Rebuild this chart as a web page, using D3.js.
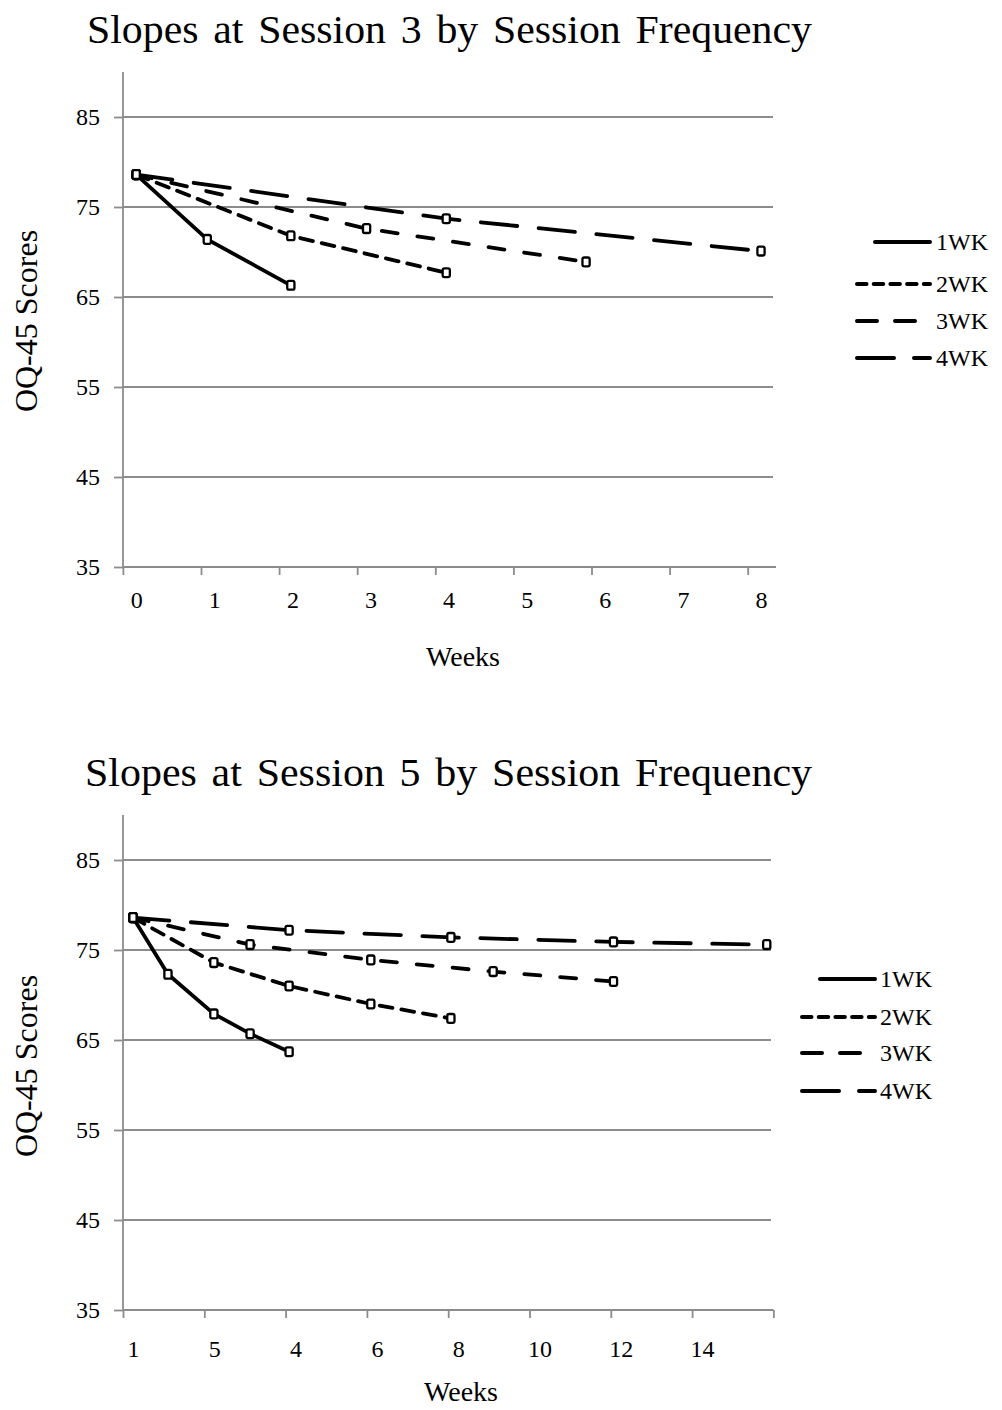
<!DOCTYPE html>
<html>
<head>
<meta charset="utf-8">
<script src="https://cdn.jsdelivr.net/npm/d3@7"></script>
<style>
  html, body { margin: 0; padding: 0; background: #fff; }
  svg { display: block; }
  text { font-family: "Times New Roman", "Liberation Serif", serif; fill: #000; }
</style>
</head>
<body>
<svg id="chart" width="1002" height="1410"></svg>
<script>
// ---- data ----
const seriesNames = ["1WK", "2WK", "3WK", "4WK"];
const yTicks = [35, 45, 55, 65, 75, 85];

// Session 3 panel: weeks since intake and mean OQ-45 score per series
const s3Weeks = [
  [0, 0.91, 1.98],
  [0, 1.98, 3.97],
  [0, 2.95, 5.76],
  [0, 3.97, 8.0]
];
const s3Scores = [
  [78.6, 71.4, 66.3],
  [78.6, 71.8, 67.7],
  [78.6, 72.6, 68.9],
  [78.6, 73.7, 70.1]
];
const s3XTicks = [0, 1, 2, 3, 4, 5, 6, 7, 8];
const s3XTickLabels = ["0", "1", "2", "3", "4", "5", "6", "7", "8"];

// Session 5 panel
const s5Weeks = [
  [0, 0.86, 1.99, 2.88, 3.84],
  [0, 1.99, 3.84, 5.85, 7.82],
  [0, 2.88, 5.85, 8.86, 11.82],
  [0, 3.84, 7.82, 11.82, 15.59]
];
const s5Scores = [
  [78.6, 72.3, 67.9, 65.7, 63.7],
  [78.6, 73.6, 71.0, 69.0, 67.4],
  [78.6, 75.6, 73.9, 72.6, 71.5],
  [78.6, 77.2, 76.4, 75.9, 75.6]
];
const s5XTicks = [0, 2, 4, 6, 8, 10, 12, 14, 16];
const s5XTickLabels = ["1", "5", "4", "6", "8", "10", "12", "14", ""];

// ---- styles ----
const lineStyles = [
  { dash: null,        legendDash: null,        legendInset: 18 },
  { dash: "13,9",      legendDash: "9.5,7.2",   legendInset: 0 },
  { dash: "16,20",     legendDash: "20,18",     legendInset: 0 },
  { dash: "36.5,21.5", legendDash: "37,20",     legendInset: 0 }
];
const GRID = "#8c8c8c";
const SERIF = '"Times New Roman", "Liberation Serif", serif';

const svg = d3.select("#chart");

function drawPanel(p) {
  const g = svg.append("g");
  const y = d3.scaleLinear().domain([35, 90]).range([p.bottom, p.top]);
  const x = d3.scaleLinear().domain(p.xDomain).range(p.xRange);

  // title
  g.append("text")
    .attr("x", p.titleX).attr("y", p.titleY)
    .attr("font-size", 39)
    .attr("textLength", p.titleLen).attr("lengthAdjust", "spacingAndGlyphs")
    .attr("word-spacing", 4)
    .text(p.title);

  // horizontal gridlines
  g.append("g").selectAll("line").data(yTicks.slice(1)).join("line")
    .attr("x1", p.left).attr("x2", p.gridRight)
    .attr("y1", d => y(d)).attr("y2", d => y(d))
    .attr("stroke", GRID).attr("stroke-width", 1.8);

  // y axis
  const yAxis = g.append("g").attr("transform", `translate(${p.left},0)`)
    .call(d3.axisLeft(y).tickValues(yTicks).tickSize(9).tickPadding(14));
  yAxis.select(".domain").remove();
  yAxis.selectAll(".tick line").attr("stroke", GRID).attr("stroke-width", 1.8);
  yAxis.selectAll(".tick text").attr("font-size", 24).attr("font-family", SERIF);
  g.append("line")
    .attr("x1", p.left).attr("x2", p.left).attr("y1", p.top).attr("y2", p.bottom)
    .attr("stroke", GRID).attr("stroke-width", 1.8);

  // x axis: tick marks sit just left of each label
  const xAxis = g.append("g").attr("transform", `translate(0,${p.bottom})`)
    .call(d3.axisBottom(x).tickValues(p.xTicks)
      .tickFormat((d, i) => p.xTickLabels[i]).tickSize(8).tickPadding(0));
  xAxis.select(".domain").remove();
  xAxis.selectAll(".tick line")
    .attr("x1", -p.tickOffset).attr("x2", -p.tickOffset)
    .attr("stroke", GRID).attr("stroke-width", 1.8);
  xAxis.selectAll(".tick text")
    .attr("y", p.xLabelDy).attr("dy", "0.35em")
    .attr("font-size", 24).attr("font-family", SERIF);
  g.append("line")
    .attr("x1", p.left).attr("x2", p.axisRight).attr("y1", p.bottom).attr("y2", p.bottom)
    .attr("stroke", GRID).attr("stroke-width", 1.8);

  // axis titles
  g.append("text")
    .attr("x", p.weeksX).attr("y", p.weeksY)
    .attr("text-anchor", "middle").attr("font-size", 28)
    .text("Weeks");
  g.append("text")
    .attr("transform", `translate(37,${p.yLabelCY}) rotate(-90)`)
    .attr("text-anchor", "middle").attr("font-size", 32)
    .text("OQ-45 Scores");

  // series lines
  const line = d3.line().x(d => x(d[0])).y(d => y(d[1]));
  const series = p.weeks.map((w, i) => w.map((v, j) => [v, p.scores[i][j]]));
  series.forEach((pts, i) => {
    g.append("path")
      .attr("d", line(pts))
      .attr("fill", "none").attr("stroke", "#000").attr("stroke-width", 3.8)
      .attr("stroke-linecap", "round").attr("stroke-linejoin", "round")
      .attr("stroke-dasharray", lineStyles[i].dash);
  });
  // markers
  series.forEach(pts => {
    g.append("g").selectAll("rect").data(pts).join("rect")
      .attr("x", d => x(d[0]) - 3.6).attr("y", d => y(d[1]) - 4.4)
      .attr("width", 7.2).attr("height", 8.8).attr("rx", 1.8)
      .attr("fill", "#fff").attr("stroke", "#000").attr("stroke-width", 2.3);
  });

  // legend
  const lg = g.append("g");
  seriesNames.forEach((name, i) => {
    const ly = p.legendY[i];
    lg.append("line")
      .attr("x1", p.legendX0 + lineStyles[i].legendInset).attr("x2", p.legendX1)
      .attr("y1", ly).attr("y2", ly)
      .attr("stroke", "#000").attr("stroke-width", 4)
      .attr("stroke-linecap", "round")
      .attr("stroke-dasharray", lineStyles[i].legendDash);
    lg.append("text")
      .attr("x", p.legendTextX).attr("y", ly).attr("dy", "0.35em")
      .attr("font-size", 24)
      .text(name);
  });
}

drawPanel({
  title: "Slopes at Session 3 by Session Frequency",
  titleX: 87, titleY: 43, titleLen: 725,
  top: 72, bottom: 567, left: 123, gridRight: 773, axisRight: 776,
  xDomain: [0, 8], xRange: [136.2, 761.0], tickOffset: 13.3,
  xTicks: s3XTicks, xTickLabels: s3XTickLabels, xLabelDy: 33,
  weeksX: 463, weeksY: 666, yLabelCY: 321,
  weeks: s3Weeks, scores: s3Scores,
  legendX0: 857, legendX1: 930, legendTextX: 936,
  legendY: [242, 284, 321, 358]
});

drawPanel({
  title: "Slopes at Session 5 by Session Frequency",
  titleX: 85, titleY: 786, titleLen: 727,
  top: 815, bottom: 1310, left: 123, gridRight: 771, axisRight: 773.5,
  xDomain: [0, 16], xRange: [133, 783.4], tickOffset: 10,
  xTicks: s5XTicks, xTickLabels: s5XTickLabels, xLabelDy: 39,
  weeksX: 461, weeksY: 1401, yLabelCY: 1066,
  weeks: s5Weeks, scores: s5Scores,
  legendX0: 802, legendX1: 875, legendTextX: 880,
  legendY: [979, 1017, 1053, 1091]
});
</script>
</body>
</html>
